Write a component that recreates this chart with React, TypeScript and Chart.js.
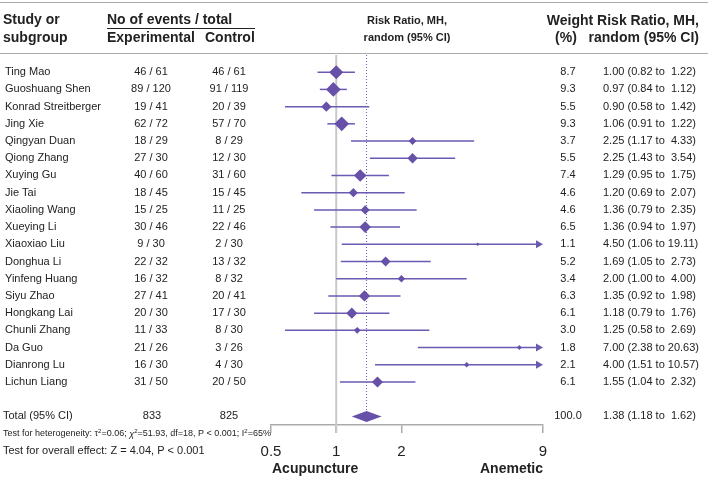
import { useEffect, useRef } from "react";
import { Chart, registerables } from "chart.js";

Chart.register(...registerables);

const studies = [
  "Ting Mao", "Guoshuang Shen", "Konrad Streitberger", "Jing Xie", "Qingyan Duan",
  "Qiong Zhang", "Xuying Gu", "Jie Tai", "Xiaoling Wang", "Xueying Li",
  "Xiaoxiao Liu", "Donghua Li", "Yinfeng Huang", "Siyu Zhao", "Hongkang Lai",
  "Chunli Zhang", "Da Guo", "Dianrong Lu", "Lichun Liang",
];
const expEvents = [46, 89, 19, 62, 18, 27, 40, 18, 15, 30, 9, 22, 16, 27, 20, 11, 21, 16, 31];
const expTotal = [61, 120, 41, 72, 29, 30, 60, 45, 25, 46, 30, 32, 32, 41, 30, 33, 26, 30, 50];
const ctrlEvents = [46, 91, 20, 57, 8, 12, 31, 15, 11, 22, 2, 13, 8, 20, 17, 8, 3, 4, 20];
const ctrlTotal = [61, 119, 39, 70, 29, 30, 60, 45, 25, 46, 30, 32, 32, 41, 30, 30, 26, 30, 50];
const weights = [8.7, 9.3, 5.5, 9.3, 3.7, 5.5, 7.4, 4.6, 4.6, 6.5, 1.1, 5.2, 3.4, 6.3, 6.1, 3.0, 1.8, 2.1, 6.1];
const riskRatio = [1.0, 0.97, 0.9, 1.06, 2.25, 2.25, 1.29, 1.2, 1.36, 1.36, 4.5, 1.69, 2.0, 1.35, 1.18, 1.25, 7.0, 4.0, 1.55];
const ciLower = [0.82, 0.84, 0.58, 0.91, 1.17, 1.43, 0.95, 0.69, 0.79, 0.94, 1.06, 1.05, 1.0, 0.92, 0.79, 0.58, 2.38, 1.51, 1.04];
const ciUpper = [1.22, 1.12, 1.42, 1.22, 4.33, 3.54, 1.75, 2.07, 2.35, 1.97, 19.11, 2.73, 4.0, 1.98, 1.76, 2.69, 20.63, 10.57, 2.32];

const totalExp = 833;
const totalCtrl = 825;
const pooledRR = 1.38;
const pooledLower = 1.18;
const pooledUpper = 1.62;
const pooledWeight = 100.0;

const xTicks = [0.5, 1, 2, 9];
const xMin = 0.5;
const xMax = 9;
const favoursLeft = "Acupuncture";
const favoursRight = "Anemetic";

const PURPLE = "#6650a8";
const LINE_PURPLE = "#6a5ab2";
const TEXT = "#222222";
const GRAY = "#ababab";
const FONT = "'Liberation Sans', Arial, sans-serif";
const TOTAL_INDEX = studies.length + 1;

const fmt = (v: number) => v.toFixed(2);
const rrText = (r: number, lo: number, hi: number) => {
  const h = fmt(hi);
  return `${fmt(r)} (${fmt(lo)} to ${h.length < 5 ? " " : ""}${h})`;
};
const markerRadius = (w: number) => 1.65 * Math.pow(w, 0.67);

const forestPlugin = {
  id: "forest",
  beforeDatasetsDraw(chart: any) {
    const { ctx, chartArea } = chart;
    const x = chart.scales.x;
    const y = chart.scales.y;
    ctx.save();
    const x1 = x.getPixelForValue(1);
    ctx.strokeStyle = "#c9c9c9";
    ctx.lineWidth = 2;
    ctx.beginPath();
    ctx.moveTo(x1, chartArea.top);
    ctx.lineTo(x1, chartArea.bottom + 8);
    ctx.stroke();
    const xp = x.getPixelForValue(pooledRR);
    ctx.strokeStyle = LINE_PURPLE;
    ctx.lineWidth = 1;
    ctx.setLineDash([1, 2]);
    ctx.beginPath();
    ctx.moveTo(xp, chartArea.top);
    ctx.lineTo(xp, y.getPixelForValue(TOTAL_INDEX) - 5);
    ctx.stroke();
    ctx.setLineDash([]);
    ctx.strokeStyle = LINE_PURPLE;
    ctx.fillStyle = LINE_PURPLE;
    ctx.lineWidth = 1.5;
    for (let i = 0; i < studies.length; i++) {
      const yy = y.getPixelForValue(i);
      const lo = x.getPixelForValue(Math.max(ciLower[i], xMin));
      const over = ciUpper[i] > xMax;
      const hi = x.getPixelForValue(Math.min(ciUpper[i], xMax));
      ctx.beginPath();
      ctx.moveTo(lo, yy);
      ctx.lineTo(over ? hi - 5 : hi, yy);
      ctx.stroke();
      if (over) {
        ctx.beginPath();
        ctx.moveTo(hi, yy);
        ctx.lineTo(hi - 7, yy - 4);
        ctx.lineTo(hi - 7, yy + 4);
        ctx.closePath();
        ctx.fill();
      }
    }
    ctx.restore();
  },
  afterDatasetsDraw(chart: any) {
    const { ctx } = chart;
    const x = chart.scales.x;
    const y = chart.scales.y;
    const yy = y.getPixelForValue(TOTAL_INDEX);
    ctx.save();
    ctx.fillStyle = PURPLE;
    ctx.beginPath();
    ctx.moveTo(x.getPixelForValue(pooledLower), yy);
    ctx.lineTo(x.getPixelForValue(pooledRR), yy - 5.5);
    ctx.lineTo(x.getPixelForValue(pooledUpper), yy);
    ctx.lineTo(x.getPixelForValue(pooledRR), yy + 5.5);
    ctx.closePath();
    ctx.fill();
    ctx.restore();
  },
  afterDraw(chart: any) {
    const { ctx } = chart;
    const x = chart.scales.x;
    const y = chart.scales.y;
    ctx.save();
    ctx.strokeStyle = GRAY;
    ctx.lineWidth = 1;
    ctx.beginPath();
    ctx.moveTo(0, 2.5);
    ctx.lineTo(708, 2.5);
    ctx.moveTo(0, 53.5);
    ctx.lineTo(708, 53.5);
    ctx.stroke();
    ctx.strokeStyle = TEXT;
    ctx.lineWidth = 1.2;
    ctx.beginPath();
    ctx.moveTo(107, 28.5);
    ctx.lineTo(255, 28.5);
    ctx.stroke();

    ctx.fillStyle = TEXT;
    ctx.textBaseline = "middle";
    ctx.font = `bold 14px ${FONT}`;
    ctx.textAlign = "left";
    ctx.fillText("Study or", 3, 20);
    ctx.fillText("subgroup", 3, 38);
    ctx.fillText("No of events / total", 107, 20);
    ctx.fillText("Experimental", 107, 38);
    ctx.fillText("Control", 205, 38);
    ctx.textAlign = "right";
    ctx.fillText("Weight Risk Ratio, MH,", 699, 21);
    ctx.fillText("random (95% CI)", 699, 38);
    ctx.textAlign = "center";
    ctx.fillText("(%)", 566, 38);
    ctx.font = `bold 11px ${FONT}`;
    ctx.fillText("Risk Ratio, MH,", 407, 21);
    ctx.fillText("random (95% CI)", 407, 38);

    ctx.font = `11px ${FONT}`;
    for (let i = 0; i < studies.length; i++) {
      const yy = y.getPixelForValue(i);
      ctx.textAlign = "left";
      ctx.fillText(studies[i], 5, yy);
      ctx.textAlign = "center";
      ctx.fillText(`${expEvents[i]} / ${expTotal[i]}`, 151, yy);
      ctx.fillText(`${ctrlEvents[i]} / ${ctrlTotal[i]}`, 229, yy);
      ctx.fillText(weights[i].toFixed(1), 568, yy);
      ctx.textAlign = "left";
      ctx.fillText(rrText(riskRatio[i], ciLower[i], ciUpper[i]), 603, yy);
    }
    const ty = y.getPixelForValue(TOTAL_INDEX);
    ctx.textAlign = "left";
    ctx.fillText("Total (95% CI)", 3, ty);
    ctx.textAlign = "center";
    ctx.fillText(String(totalExp), 152, ty);
    ctx.fillText(String(totalCtrl), 229, ty);
    ctx.fillText(pooledWeight.toFixed(1), 568, ty);
    ctx.textAlign = "left";
    ctx.fillText(rrText(pooledRR, pooledLower, pooledUpper), 603, ty);

    const hy = 434;
    let cx = 3;
    const seg = (t: string, font: string, dy = 0) => {
      ctx.font = font;
      ctx.fillText(t, cx, hy + dy);
      cx += ctx.measureText(t).width;
    };
    const base = `9px ${FONT}`;
    const sup = `6px ${FONT}`;
    ctx.textAlign = "left";
    seg("Test for heterogeneity: \u03C4", base);
    seg("2", sup, -3);
    seg("=0.06; ", base);
    seg("\u03C7", `italic 9px ${FONT}`);
    seg("2", sup, -3);
    seg("=51.93, df=18, P < 0.001; I", base);
    seg("2", sup, -3);
    seg("=65%", base);

    ctx.font = `11px ${FONT}`;
    ctx.fillText("Test for overall effect: Z = 4.04, P < 0.001", 3, 451);

    ctx.font = `bold 14px ${FONT}`;
    ctx.textAlign = "left";
    ctx.fillText(favoursLeft, x.getPixelForValue(xMin) + 1, 469);
    ctx.textAlign = "right";
    ctx.fillText(favoursRight, x.getPixelForValue(xMax), 469);
    ctx.restore();
  },
};

export default function App() {
  const canvasRef = useRef<HTMLCanvasElement | null>(null);
  useEffect(() => {
    const canvas = canvasRef.current;
    if (!canvas) return;
    const chart = new Chart(canvas, {
      type: "scatter",
      data: {
        datasets: [
          {
            data: riskRatio.map((r, i) => ({ x: r, y: i })),
            pointStyle: "rectRot",
            pointRadius: weights.map(markerRadius),
            pointHoverRadius: weights.map(markerRadius),
            backgroundColor: PURPLE,
            borderWidth: 0,
          },
        ],
      },
      options: {
        animation: false,
        responsive: false,
        devicePixelRatio: 1,
        layout: { padding: { left: 271, right: 165, top: 55, bottom: 8 } },
        plugins: { legend: { display: false }, tooltip: { enabled: false } },
        events: [],
        scales: {
          x: {
            type: "logarithmic",
            min: xMin,
            max: xMax,
            afterBuildTicks: (scale: any) => {
              scale.ticks = xTicks.map((v) => ({ value: v }));
            },
            grid: {
              display: true,
              drawOnChartArea: false,
              drawTicks: true,
              tickLength: 8,
              color: GRAY,
              lineWidth: 1.5,
            },
            border: { display: true, color: GRAY, width: 1.5 },
            ticks: {
              autoSkip: false,
              maxRotation: 0,
              padding: 10,
              color: TEXT,
              font: { size: 15, family: FONT },
              callback: (v: any) => String(v),
            },
          },
          y: {
            type: "linear",
            min: -1,
            max: TOTAL_INDEX + 0.5,
            reverse: true,
            display: false,
          },
        },
      },
      plugins: [forestPlugin],
    } as any);
    return () => chart.destroy();
  }, []);
  return (
    <div style={{ position: "absolute", left: 0, top: 0, width: 708, height: 479, background: "#fff" }}>
      <canvas ref={canvasRef} width={708} height={479} style={{ display: "block" }} />
    </div>
  );
}
